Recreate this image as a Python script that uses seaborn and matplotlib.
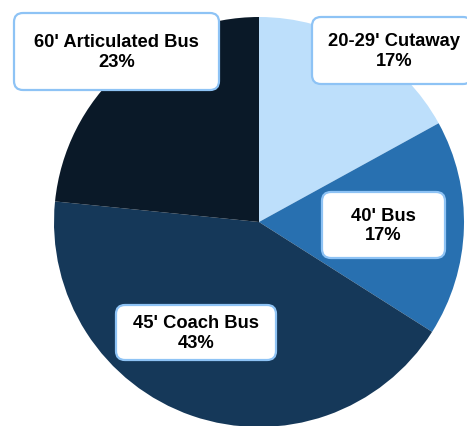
import seaborn as sns
import matplotlib.pyplot as plt
from matplotlib.patches import FancyBboxPatch

# bus fleet share by vehicle type (clockwise from 12 o'clock)
categories = ["20-29' Cutaway", "40' Bus", "45' Coach Bus", "60' Articulated Bus"]
shares = [17.0, 17.0, 42.6, 23.4]
colors = ["#bddffb", "#2870b0", "#153859", "#0a1928"]

sns.set_style("white")
plt.rcParams['font.family'] = ['Liberation Sans', 'DejaVu Sans']

fig = plt.figure(figsize=(4.67, 4.26), dpi=100)
ax = fig.add_axes([0, 0, 1, 1])

ax.pie(shares, colors=colors, startangle=90, counterclock=False,
       center=(259, 204), radius=205, frame=True,
       wedgeprops=dict(linewidth=0))
ax.set_xlim(0, 467)
ax.set_ylim(0, 426)
ax.set_aspect('equal')
ax.axis('off')

# label boxes: (left, top, right, bottom) in image pixels, plus text centre x
boxes = [(312, 17, 472, 84, 394), (322, 192, 445, 258, 383.5),
         (116, 305, 276, 360, 196), (14, 13, 219, 90, 116.5)]

for name, val, (x0, y0, x1, y1, tx) in zip(categories, shares, boxes):
    patch = FancyBboxPatch((x0, 426 - y1), x1 - x0, y1 - y0,
                           boxstyle="round,pad=0,rounding_size=9",
                           facecolor="white", edgecolor="#8ec3f5", linewidth=1.6,
                           zorder=3)
    ax.add_patch(patch)
    ax.text(tx, 426 - (y0 + y1) / 2 - 1, f"{name}\n{val:.0f}%",
            ha='center', va='center', color='black',
            fontsize=13.2, fontweight='bold', linespacing=1.2, zorder=4)

fig.savefig("out.png", dpi=100)
